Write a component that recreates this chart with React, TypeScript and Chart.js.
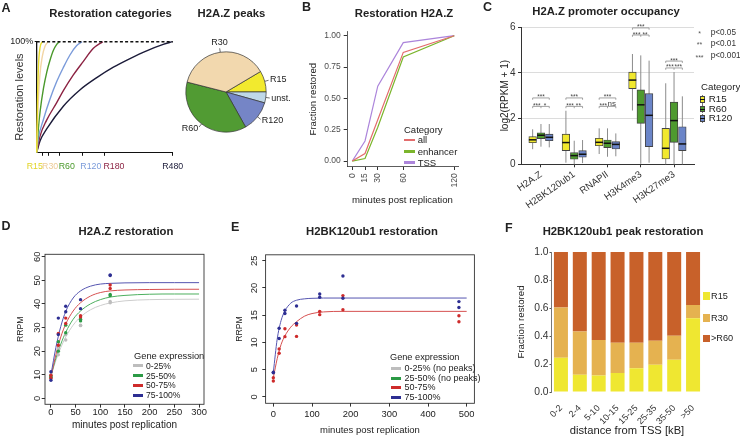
import React, { useEffect, useRef } from "react";
import { Chart, registerables } from "chart.js";

Chart.register(...registerables);

const FONT = '"Liberation Sans", Arial, Helvetica, sans-serif';
Chart.defaults.font.family = FONT;
Chart.defaults.color = "#222";

const W = 740;
const H = 436;

// ================= DATA =================
// Panel A – restoration categories (schematic curves: minutes on display axis, % restored)
const categoryTicksA = [15, 30, 60, 120, 180, 360];
const categoryNamesA = ["R15", "R30", "R60", "R120", "R180", "R480"];
const levelTicksA = [100];
const fullLevelA = [[0, 100], [360, 100]];
const curveR15 = [[0, 0], [2, 45], [5, 80], [9, 95], [15, 100]];
const curveR30 = [[0, 0], [3, 35], [8, 68], [15, 87], [22, 96], [30, 100]];
const curveR60 = [[0, 0], [4, 20], [9, 37], [18, 58], [27, 73], [35, 83], [44, 92], [53, 97.5], [60, 100]];
const curveR120 = [[0, 0], [4, 12], [18, 30], [35, 48], [53, 64], [71, 77], [88, 88], [106, 96.5], [120, 100]];
const curveR180 = [[0, 0], [9, 15], [26, 29], [53, 45], [71, 56], [97, 70], [123, 82], [150, 94], [175, 100]];
const curveR480 = [[0, 0], [9, 10.6], [26, 21], [71, 42], [115, 56.7], [159, 67.6], [203, 77], [247, 84.8], [291, 91.8], [335, 97.6], [360, 100]];

// Panel A – H2A.Z peaks pie (percent)
const peakCategories = ["R15", "unst.", "R120", "R60", "R30"];
const peakShares = [8.5, 4.4, 12.5, 37.1, 37.5];

// Panel B – Restoration H2A.Z
const minutesB = [0, 15, 30, 60, 120];
const categoriesB = ["all", "enhancer", "TSS"];
const fractionAllB = [0, 0.06, 0.33, 0.867, 1];
const fractionEnhancerB = [0, 0.02, 0.27, 0.83, 1];
const fractionTssB = [0, 0.16, 0.598, 0.945, 1];
const fractionTicksB = [0, 0.25, 0.5, 0.75, 1];

// Panel C – H2A.Z promoter occupancy: [lower whisker, Q1, median, Q3, upper whisker]
const marksC = ["H2A.Z", "H2BK120ub1", "RNAPII", "H3K4me3", "H3K27me3"];
const categoriesC = ["R15", "R60", "R120"];
const boxR15C = [[0.66, 0.94, 1.07, 1.21, 1.53], [0.07, 0.6, 0.95, 1.32, 2.34], [0.45, 0.81, 0.96, 1.14, 1.57], [2.35, 3.31, 3.68, 4.03, 4.82], [0.0, 0.23, 0.7, 1.57, 3.54]];
const boxR60C = [[0.77, 1.12, 1.27, 1.38, 1.76], [0.0, 0.22, 0.38, 0.51, 1.03], [0.33, 0.73, 0.92, 1.06, 1.57], [0.02, 1.79, 2.6, 3.25, 4.76], [0.0, 0.96, 1.91, 2.72, 4.03]];
const boxR120C = [[0.74, 1.03, 1.18, 1.32, 1.76], [0.05, 0.31, 0.44, 0.6, 1.06], [0.35, 0.67, 0.87, 0.99, 1.35], [0.07, 0.77, 2.14, 3.09, 4.53], [0.0, 0.6, 0.89, 1.64, 2.97]];
const yTicksC = [0, 2, 4, 6];
const sigTopC = ["***", "***", "***", "***", "***"];
const sigLeftC = ["***", "***", "***", "***", "***"];
const sigRightC = ["*", "**", "ns", "**", "***"];
const bracketTopC = [2.9, 2.9, 2.9, 5.96, 4.51];
const bracketLowC = [2.53, 2.53, 2.53, 5.65, 4.21];
const pLevelStars = ["*", "**", "***"];
const pLevelTexts = ["p<0.05", "p<0.01", "p<0.001"];

// Panel D – H2A.Z restoration (RRPM)
const expressionGroupsD = ["0-25%", "25-50%", "50-75%", "75-100%"];
const timesD = [0, 0, 15, 15, 30, 30, 60, 60, 120, 120];
const rrpmD0_25 = [10.0, 9.3, 21, 18.5, 27, 24.7, 31, 30.8, 41, 40.5];
const rrpmD25_50 = [9.5, 9.0, 24, 20, 31, 27.8, 33.5, 32.8, 44, 43.5];
const rrpmD50_75 = [9.8, 8.5, 27.5, 22.5, 34, 31.7, 35, 34.5, 48, 46.5];
const rrpmD75_100 = [11.3, 7.7, 34, 27, 39, 36.7, 41.8, 38, 52.3, 52];
const fitTimesD = [0, 10, 20, 30, 45, 60, 80, 100, 120, 150, 200, 250, 300];
const fitD0_25 = [9.5, 16, 21.5, 26, 31, 34.5, 37.5, 39.3, 40.4, 41.3, 41.8, 41.95, 42];
const fitD25_50 = [9.5, 17, 23, 28, 33.5, 37, 40, 41.8, 42.9, 43.6, 44.1, 44.2, 44.2];
const fitD50_75 = [9, 18.5, 26, 31.5, 37, 40.5, 43.3, 44.8, 45.5, 45.9, 46.1, 46.2, 46.2];
const fitD75_100 = [10, 21.5, 30.5, 36.8, 42.5, 45.5, 47.5, 48.4, 48.7, 48.9, 49, 49, 49];
const xTicksD = [0, 50, 100, 150, 200, 250, 300];
const yTicksD = [0, 10, 20, 30, 40, 50, 60];

// Panel E – H2BK120ub1 restoration (RRPM)
const expressionGroupsE = ["0-25% (no peaks)", "25-50% (no peaks)", "50-75%", "75-100%"];
const timesE = [0, 0, 15, 15, 30, 30, 60, 60, 120, 120, 180, 180, 480, 480];
const rrpmE50_75 = [3.5, 2.9, 8.8, 8.0, 12.5, 11.05, 13.2, 11.1, 15.7, 15.1, 18.6, 16.0, 14.9, 13.8];
const rrpmE75_100 = [4.4, 4.5, 12.6, 10.7, 15.9, 15.3, 16.7, 13.5, 18.9, 18.3, 22.2, 18.1, 17.5, 16.4];
const fitTimesE = [0, 10, 20, 30, 45, 60, 80, 100, 130, 180, 250, 500];
const fitE50_75 = [3.5, 7.0, 9.6, 11.2, 12.8, 13.8, 14.8, 15.3, 15.6, 15.7, 15.7, 15.7];
const fitE75_100 = [4.5, 10.6, 14.0, 15.8, 17.2, 17.75, 18.0, 18.1, 18.15, 18.15, 18.15, 18.15];
const xTicksE = [0, 100, 200, 300, 400, 500];
const yTicksE = [0, 5, 10, 15, 20, 25];

// Panel F – H2BK120ub1 peak restoration
const distancesF = ["0-2", "2-4", "5-10", "10-15", "15-25", "25-35", "35-50", ">50"];
const categoriesF = ["R15", "R30", ">R60"];
const fractionR15F = [0.244, 0.124, 0.117, 0.136, 0.17, 0.194, 0.23, 0.526];
const fractionR30F = [0.359, 0.309, 0.254, 0.216, 0.182, 0.172, 0.172, 0.096];
const fractionR60F = [0.397, 0.567, 0.629, 0.648, 0.648, 0.634, 0.598, 0.378];
const yTicksF = [0, 0.2, 0.4, 0.6, 0.8, 1];

// ================= STYLES =================
const COLORS_A = ["#E8DC2C", "#F2D5A4", "#4A992B", "#7B9BDA", "#8C2343", "#1B1B39"];
const TICK_COLORS_A = ["#E2D426", "#EDCB96", "#4A992B", "#7B9BDA", "#8C2343", "#1B1B39"];
const TICK_ALIGN_A = ["right", "left", "left", "left", "left", "center"];
const TICK_SHIFT_A = [0.5, -6, -0.7, -1.7, -1.3, 0];
const COLORS_PIE = ["#F2EA2E", "#BFD8E8", "#7585C6", "#519B33", "#F2D8AE"];
const COLORS_B = ["#E36D6D", "#7BB52C", "#AC85DB"];
const COLORS_C = ["#F1E82E", "#4E9A2F", "#6B85C8"];
const POINT_COLORS_D = ["#BDBDBD", "#2B9A45", "#CE2B2B", "#2D2E92"];
const LINE_COLORS_D = ["#CDCDCD", "#4CAF5E", "#D65050", "#5555B0"];
const COLORS_F = ["#EFE731", "#E5B250", "#C8612A"];

// ================= HELPERS =================
const pairs = (p: number[][]) => p.map(([x, y]) => ({ x, y }));
const xy = (xs: number[], ys: number[]) => xs.map((x, i) => ({ x, y: ys[i] }));
const setTicks = (vals: number[]) => (s: any) => {
  s.ticks = vals.map((v) => ({ value: v }));
};
const tickGrid = (len: number, color = "#333") => ({
  display: true,
  drawOnChartArea: false,
  drawTicks: true,
  tickLength: len,
  color,
  tickColor: color,
  lineWidth: 1,
  offset: false,
});
const xTitle = (text: string, size: number, centerY: number, color = "#222") => ({
  display: true,
  text,
  color,
  font: { size },
  padding: { top: 0, bottom: H - centerY - (size * 1.2) / 2 },
});
const yTitle = (text: string, size: number, centerX: number, color = "#222") => ({
  display: true,
  text,
  color,
  font: { size },
  padding: { top: centerX - (size * 1.2) / 2, bottom: 0 },
});
const baseOptions = (T: number, R: number) => ({
  responsive: false,
  animation: false,
  events: [],
  layout: { padding: { left: 0, top: T, right: W - R, bottom: 0 } },
  plugins: { legend: { display: false }, tooltip: { enabled: false } },
});

const framePlugin = {
  id: "frame",
  afterDraw(chart: any) {
    const { left, top, right, bottom } = chart.chartArea;
    const ctx = chart.ctx;
    ctx.save();
    ctx.strokeStyle = "#333";
    ctx.lineWidth = 0.9;
    ctx.strokeRect(left, top, right - left, bottom - top);
    ctx.restore();
  },
};

const rotatedYLabels = (values: number[], centerX: number, size: number) => ({
  id: "rotY",
  afterDraw(chart: any) {
    const ys = chart.scales.y;
    const ctx = chart.ctx;
    ctx.save();
    ctx.font = `${size}px ${FONT}`;
    ctx.fillStyle = "#222";
    ctx.textAlign = "center";
    ctx.textBaseline = "middle";
    values.forEach((v) => {
      ctx.save();
      ctx.translate(centerX, ys.getPixelForValue(v));
      ctx.rotate(-Math.PI / 2);
      ctx.fillText(String(v), 0, 0);
      ctx.restore();
    });
    ctx.restore();
  },
});

// ================= PANEL CONFIGS =================
function makeA() {
  const L = 36.7, T = 41.7, R = 172.7, B = 152.5;
  const curves = [curveR15, curveR30, curveR60, curveR120, curveR180, curveR480];
  const categoryLabelPlugin = {
    id: "catLabels",
    afterDraw(chart: any) {
      const xs = chart.scales.x, ctx = chart.ctx;
      ctx.save();
      ctx.font = `8.8px ${FONT}`;
      ctx.textBaseline = "middle";
      categoryTicksA.forEach((v, i) => {
        ctx.fillStyle = TICK_COLORS_A[i];
        ctx.textAlign = TICK_ALIGN_A[i];
        ctx.fillText(categoryNamesA[i], xs.getPixelForValue(v) + TICK_SHIFT_A[i], 166.7);
      });
      ctx.restore();
    },
  };
  return {
    type: "line",
    data: {
      datasets: [
        { data: pairs(fullLevelA), borderColor: "#111", borderWidth: 1.4, borderDash: [3, 2.2], pointRadius: 0, clip: 5 },
        ...curves.map((c, i) => ({
          data: pairs(c),
          borderColor: COLORS_A[i],
          borderWidth: 1.4,
          pointRadius: 0,
          cubicInterpolationMode: "monotone",
          clip: 5,
        })),
      ],
    },
    options: {
      ...baseOptions(T, R),
      scales: {
        x: {
          type: "linear",
          min: 0,
          max: 360,
          afterBuildTicks: setTicks(categoryTicksA),
          afterFit: (s: any) => { s.height = H - B; },
          ticks: { display: false, autoSkip: false },
          grid: tickGrid(3.3, "#111"),
          border: { display: true, color: "#111", width: 1 },
        },
        y: {
          type: "linear",
          min: 0,
          max: 100,
          afterBuildTicks: setTicks(levelTicksA),
          afterFit: (s: any) => { s.width = L; },
          ticks: { padding: 1.4, font: { size: 9 }, color: "#222", callback: (v: any) => v + "%" },
          grid: tickGrid(2, "#111"),
          border: { display: true, color: "#111", width: 1.3 },
          title: yTitle("Restoration levels", 11, 19.5, "#333"),
        },
      },
    },
    plugins: [categoryLabelPlugin],
  };
}

const pieLabelPlugin = {
  id: "pieLabels",
  afterDatasetsDraw(chart: any) {
    const meta = chart.getDatasetMeta(0);
    const ctx = chart.ctx;
    ctx.save();
    ctx.font = `9px ${FONT}`;
    ctx.fillStyle = "#222";
    ctx.strokeStyle = "#333";
    ctx.lineWidth = 0.7;
    meta.data.forEach((arc: any, i: number) => {
      const { x, y, startAngle, endAngle, outerRadius } = arc.getProps(["x", "y", "startAngle", "endAngle", "outerRadius"], true);
      const mid = (startAngle + endAngle) / 2;
      const c = Math.cos(mid), s = Math.sin(mid);
      ctx.beginPath();
      ctx.moveTo(x + c * outerRadius, y + s * outerRadius);
      ctx.lineTo(x + c * (outerRadius + 4), y + s * (outerRadius + 4));
      ctx.stroke();
      const lx = x + c * (outerRadius + 5.5), ly = y + s * (outerRadius + 5.5);
      if (Math.abs(c) < 0.3) {
        ctx.textAlign = "center";
        ctx.textBaseline = s < 0 ? "bottom" : "top";
      } else {
        ctx.textAlign = c > 0 ? "left" : "right";
        ctx.textBaseline = "middle";
      }
      ctx.fillText(peakCategories[i], lx, ly);
    });
    ctx.restore();
  },
};

function makePie() {
  const cx = 226, cy = 92, r = 40.5;
  return {
    type: "pie",
    data: {
      labels: peakCategories,
      datasets: [{ data: peakShares, backgroundColor: COLORS_PIE, borderColor: "#333", borderWidth: 0.7 }],
    },
    options: {
      responsive: false,
      animation: false,
      events: [],
      rotation: 59.3,
      layout: { padding: { left: cx - r, top: cy - r, right: W - cx - r, bottom: H - cy - r } },
      plugins: { legend: { display: false }, tooltip: { enabled: false } },
    },
    plugins: [pieLabelPlugin],
  };
}

function makeB() {
  const L = 347, T = 31.7, R = 458, B = 166.7;
  const series = [fractionAllB, fractionEnhancerB, fractionTssB];
  return {
    type: "line",
    data: {
      datasets: series.map((s, i) => ({ data: xy(minutesB, s), borderColor: COLORS_B[i], borderWidth: 1.2, pointRadius: 0 })),
    },
    options: {
      ...baseOptions(T, R),
      scales: {
        x: {
          type: "linear",
          min: -6.2,
          max: 124.4,
          afterBuildTicks: setTicks(minutesB),
          afterFit: (s: any) => { s.height = H - B; },
          ticks: { autoSkip: false, minRotation: 90, maxRotation: 90, padding: 3.3, font: { size: 8.5 }, color: "#4D4D4D" },
          grid: tickGrid(3.3, "#333"),
          border: { display: true, color: "#333", width: 0.8 },
          title: xTitle("minutes post replication", 9.6, 200),
        },
        y: {
          type: "linear",
          min: -0.045,
          max: 1.032,
          afterBuildTicks: setTicks(fractionTicksB),
          afterFit: (s: any) => { s.width = L; },
          ticks: { padding: 3, font: { size: 8.5 }, color: "#4D4D4D", callback: (v: any) => Number(v).toFixed(2) },
          grid: tickGrid(3.3, "#333"),
          border: { display: true, color: "#333", width: 0.8 },
          title: yTitle("Fraction restored", 9.6, 313),
        },
      },
    },
  };
}

const OFFSETS_C = [-0.25, 0, 0.25];
const BOX_HALF_C = 3.8;
function makeC() {
  const L = 521, T = 27, R = 694, B = 164.3;
  const stats = [boxR15C, boxR60C, boxR120C];
  const boxPlugin = {
    id: "boxParts",
    beforeDatasetsDraw(chart: any) {
      const xs = chart.scales.x, ys = chart.scales.y, ctx = chart.ctx;
      ctx.save();
      ctx.strokeStyle = "#8C8C8C";
      ctx.lineWidth = 1;
      stats.forEach((st, k) =>
        st.forEach((s, i) => {
          const px = xs.getPixelForValue(i + 1 + OFFSETS_C[k]);
          ctx.beginPath();
          ctx.moveTo(px, ys.getPixelForValue(s[0]));
          ctx.lineTo(px, ys.getPixelForValue(s[4]));
          ctx.stroke();
        })
      );
      ctx.restore();
    },
    afterDatasetsDraw(chart: any) {
      const xs = chart.scales.x, ys = chart.scales.y, ctx = chart.ctx;
      ctx.save();
      ctx.strokeStyle = "#111";
      ctx.lineWidth = 1.5;
      stats.forEach((st, k) =>
        st.forEach((s, i) => {
          const px = xs.getPixelForValue(i + 1 + OFFSETS_C[k]);
          const py = ys.getPixelForValue(s[2]);
          ctx.beginPath();
          ctx.moveTo(px - BOX_HALF_C, py);
          ctx.lineTo(px + BOX_HALF_C, py);
          ctx.stroke();
        })
      );
      ctx.restore();
    },
    afterDraw(chart: any) {
      const xs = chart.scales.x, ys = chart.scales.y, ctx = chart.ctx;
      ctx.save();
      ctx.strokeStyle = "#8A8A8A";
      ctx.lineWidth = 0.8;
      ctx.fillStyle = "#444";
      ctx.textAlign = "center";
      ctx.textBaseline = "alphabetic";
      const seg = (x1: number, y1: number, x2: number, y2: number) => {
        ctx.beginPath();
        ctx.moveTo(x1, y1);
        ctx.lineTo(x2, y2);
        ctx.stroke();
      };
      marksC.forEach((_m, i) => {
        const c = i + 1;
        const xa = xs.getPixelForValue(c + OFFSETS_C[0]);
        const xb = xs.getPixelForValue(c + OFFSETS_C[1]);
        const xc = xs.getPixelForValue(c + OFFSETS_C[2]);
        const yt = ys.getPixelForValue(bracketTopC[i]);
        const yl = ys.getPixelForValue(bracketLowC[i]);
        seg(xa, yt + 1.8, xa, yt); seg(xa, yt, xc, yt); seg(xc, yt, xc, yt + 1.8);
        seg(xa, yl + 1.8, xa, yl); seg(xa, yl, xc, yl); seg(xb, yl, xb, yl + 1.8); seg(xc, yl, xc, yl + 1.8);
        const txt = (t: string, x: number, y: number) => {
          ctx.font = t === "ns" ? `8px ${FONT}` : `6.5px ${FONT}`;
          ctx.fillText(t, x, t === "ns" ? y + 0.5 : y + 2.5);
        };
        txt(sigTopC[i], xb, yt - 1);
        txt(sigLeftC[i], (xa + xb) / 2, yl - 1);
        txt(sigRightC[i], (xb + xc) / 2, yl - 1);
      });
      ctx.restore();
    },
  };
  return {
    type: "bar",
    data: {
      datasets: stats.map((st, k) => ({
        label: categoriesC[k],
        data: st.map((s, i) => ({ x: i + 1 + OFFSETS_C[k], y: [s[1], s[3]] })),
        backgroundColor: COLORS_C[k],
        borderColor: "#444",
        borderWidth: 0.9,
        borderSkipped: false,
        barThickness: BOX_HALF_C * 2,
        grouped: false,
      })),
    },
    options: {
      ...baseOptions(T, R),
      scales: {
        x: {
          type: "linear",
          min: 0.4,
          max: 5.6,
          offset: false,
          afterBuildTicks: setTicks([1, 2, 3, 4, 5]),
          afterFit: (s: any) => { s.height = H - B; },
          ticks: {
            autoSkip: false,
            minRotation: 35,
            maxRotation: 35,
            padding: 1.5,
            font: { size: 9.7 },
            color: "#333",
            callback: (v: any) => marksC[Math.round(v) - 1],
          },
          grid: tickGrid(3, "#333"),
          border: { display: true, color: "#333", width: 1 },
        },
        y: {
          type: "linear",
          min: 0,
          max: 6,
          afterBuildTicks: setTicks(yTicksC),
          afterFit: (s: any) => { s.width = L; },
          ticks: { padding: 2.5, font: { size: 10 }, color: "#333" },
          grid: {
            display: true,
            drawOnChartArea: true,
            drawTicks: true,
            tickLength: 3,
            color: (ctx: any) => (ctx.tick && ctx.tick.value === 0 ? "rgba(0,0,0,0)" : "#DCDCDC"),
            tickColor: "#333",
            lineWidth: 1,
          },
          border: { display: true, color: "#333", width: 1 },
          title: yTitle("log2(RPKM + 1)", 10, 505),
        },
      },
    },
    plugins: [boxPlugin],
  };
}

function makeD() {
  const L = 45, T = 254.3, R = 204, B = 404.3;
  const pts = [rrpmD0_25, rrpmD25_50, rrpmD50_75, rrpmD75_100];
  const fits = [fitD0_25, fitD25_50, fitD50_75, fitD75_100];
  const pointSets = pts.map((p, i) => ({
    data: xy(timesD, p),
    showLine: false,
    pointRadius: 1.7,
    pointBorderWidth: 0,
    pointBackgroundColor: POINT_COLORS_D[i],
  })).reverse();
  const fitSets = fits.map((f, i) => ({
    data: xy(fitTimesD, f),
    borderColor: LINE_COLORS_D[i],
    borderWidth: 1,
    pointRadius: 0,
    cubicInterpolationMode: "monotone",
  })).reverse();
  return {
    type: "line",
    data: { datasets: [...pointSets, ...fitSets] },
    options: {
      ...baseOptions(T, R),
      scales: {
        x: {
          type: "linear",
          min: -12,
          max: 310,
          afterBuildTicks: setTicks(xTicksD),
          afterFit: (s: any) => { s.height = H - B; },
          ticks: { autoSkip: false, maxRotation: 0, padding: -1.2, font: { size: 9.4 }, color: "#222" },
          grid: tickGrid(3.3, "#333"),
          border: { display: false },
          title: xTitle("minutes post replication", 10, 425.7),
        },
        y: {
          type: "linear",
          min: -2.5,
          max: 61,
          afterBuildTicks: setTicks(yTicksD),
          afterFit: (s: any) => { s.width = L; },
          ticks: { display: false },
          grid: tickGrid(3.3, "#333"),
          border: { display: false },
          title: yTitle("RRPM", 8.7, 20.5),
        },
      },
    },
    plugins: [framePlugin, rotatedYLabels(yTicksD, 37.5, 9.4)],
  };
}

function makeE() {
  const L = 265.6, T = 254.8, R = 474.4, B = 403.3;
  const pts = [rrpmE50_75, rrpmE75_100];
  const fits = [fitE50_75, fitE75_100];
  const pointSets = pts.map((p, i) => ({
    data: xy(timesE, p),
    showLine: false,
    pointRadius: 1.7,
    pointBorderWidth: 0,
    pointBackgroundColor: POINT_COLORS_D[i + 2],
  })).reverse();
  const fitSets = fits.map((f, i) => ({
    data: xy(fitTimesE, f),
    borderColor: LINE_COLORS_D[i + 2],
    borderWidth: 1,
    pointRadius: 0,
    cubicInterpolationMode: "monotone",
  })).reverse();
  return {
    type: "line",
    data: { datasets: [...pointSets, ...fitSets] },
    options: {
      ...baseOptions(T, R),
      scales: {
        x: {
          type: "linear",
          min: -20,
          max: 520,
          afterBuildTicks: setTicks(xTicksE),
          afterFit: (s: any) => { s.height = H - B; },
          ticks: { autoSkip: false, maxRotation: 0, padding: 2.3, font: { size: 9.4 }, color: "#222" },
          grid: tickGrid(3.3, "#333"),
          border: { display: false },
          title: xTitle("minutes post replication", 9.5, 430),
        },
        y: {
          type: "linear",
          min: -1.2,
          max: 26.1,
          afterBuildTicks: setTicks(yTicksE),
          afterFit: (s: any) => { s.width = L; },
          ticks: { display: false },
          grid: tickGrid(3.3, "#333"),
          border: { display: false },
          title: yTitle("RRPM", 8.7, 240),
        },
      },
    },
    plugins: [framePlugin, rotatedYLabels(yTicksE, 254, 9.4)],
  };
}

function makeF() {
  const L = 551.5, T = 252, R = 702.5, B = 392;
  const series = [fractionR15F, fractionR30F, fractionR60F];
  return {
    type: "bar",
    data: {
      labels: distancesF,
      datasets: series.map((s, i) => ({
        label: categoriesF[i],
        data: s,
        backgroundColor: COLORS_F[i],
        borderWidth: 0,
        barPercentage: 0.742,
        categoryPercentage: 1,
      })),
    },
    options: {
      ...baseOptions(T, R),
      scales: {
        x: {
          stacked: true,
          afterFit: (s: any) => { s.height = H - B; },
          ticks: { autoSkip: false, minRotation: 45, maxRotation: 45, padding: 3, font: { size: 9 }, color: "#333" },
          grid: { display: false },
          border: { display: false },
          title: xTitle("distance from TSS [kB]", 11.2, 431),
        },
        y: {
          stacked: true,
          min: 0,
          max: 1,
          afterBuildTicks: setTicks(yTicksF),
          afterFit: (s: any) => { s.width = L; },
          ticks: { padding: 1, font: { size: 10.3 }, color: "#333", callback: (v: any) => Number(v).toFixed(1) },
          grid: tickGrid(2, "#555"),
          border: { display: true, color: "#777", width: 1 },
          title: yTitle("Fraction restored", 9.7, 521.7),
        },
      },
    },
  };
}

// ================= COMPONENTS =================
function ChartLayer({ make }: { make: () => any }) {
  const ref = useRef<HTMLCanvasElement>(null);
  useEffect(() => {
    const chart = new Chart(ref.current as HTMLCanvasElement, make());
    return () => chart.destroy();
  }, []);
  return (
    <canvas
      ref={ref}
      width={W}
      height={H}
      style={{ position: "absolute", left: 0, top: 0, width: W, height: H }}
    />
  );
}

function T({ x, y, s, b, c, a = "left", children }: any) {
  const style: any = {
    position: "absolute",
    top: y - 0.59 * s,
    fontSize: s,
    lineHeight: `${1.2 * s}px`,
    fontWeight: b ? "bold" : "normal",
    color: c || "#222",
    whiteSpace: "nowrap",
    fontFamily: FONT,
  };
  if (a === "left") style.left = x;
  else if (a === "center") {
    style.left = x;
    style.transform = "translateX(-50%)";
  } else style.right = W - x;
  return <div style={style}>{children}</div>;
}

function Box({ x, y, w, h, bg, border }: any) {
  return (
    <div
      style={{
        position: "absolute",
        left: x,
        top: y,
        width: w,
        height: h,
        background: bg,
        border: border || "none",
        boxSizing: "border-box",
      }}
    />
  );
}

export default function App() {
  const legendBY = [140, 151.7, 162.3];
  const legendDY = [365.7, 375.7, 385.3, 395];
  const legendEY = [368.3, 378.3, 387.7, 397];
  const legendFY = [296, 318, 338.7];
  const legendCY = [99, 108.7, 118];
  const pLegendY = [33, 44, 56.3];
  return (
    <div
      style={{
        position: "absolute",
        left: 0,
        top: 0,
        width: W,
        height: H,
        background: "#fff",
        overflow: "hidden",
        fontFamily: FONT,
      }}
    >
      <ChartLayer make={makeA} />
      <ChartLayer make={makePie} />
      <ChartLayer make={makeB} />
      <ChartLayer make={makeC} />
      <ChartLayer make={makeD} />
      <ChartLayer make={makeE} />
      <ChartLayer make={makeF} />

      {/* panel letters */}
      <T x={1.5} y={8} s={12.5} b>A</T>
      <T x={302} y={7} s={12.5} b>B</T>
      <T x={483} y={7.8} s={12.5} b>C</T>
      <T x={1.5} y={226.3} s={12.5} b>D</T>
      <T x={231} y={227.5} s={12.5} b>E</T>
      <T x={505} y={228.7} s={12.5} b>F</T>

      {/* titles */}
      <T x={110.5} y={13.7} s={11.3} b a="center">Restoration categories</T>
      <T x={231.5} y={13.7} s={11.3} b a="center">H2A.Z peaks</T>
      <T x={404} y={13.7} s={11.3} b a="center">Restoration H2A.Z</T>
      <T x={606} y={11.2} s={11.3} b a="center">H2A.Z promoter occupancy</T>
      <T x={126} y={231.7} s={11.3} b a="center">H2A.Z restoration</T>
      <T x={372} y={231.7} s={11.3} b a="center">H2BK120ub1 restoration</T>
      <T x={623} y={231.7} s={11.3} b a="center">H2BK120ub1 peak restoration</T>

      {/* legend B */}
      <T x={404} y={130} s={9.5}>Category</T>
      {categoriesB.map((name, i) => (
        <React.Fragment key={"b" + i}>
          <Box x={404} y={legendBY[i] - 1.3} w={11} h={2.7} bg={COLORS_B[i]} />
          <T x={417.7} y={legendBY[i]} s={9.5}>{name}</T>
        </React.Fragment>
      ))}

      {/* p-value legend C */}
      {pLevelStars.map((st, i) => (
        <React.Fragment key={"p" + i}>
          <T x={699.5} y={pLegendY[i] + 1.5} s={7} c="#555" a="center">{st}</T>
          <T x={710.7} y={pLegendY[i]} s={8.2} c="#333">{pLevelTexts[i]}</T>
        </React.Fragment>
      ))}
      {/* category legend C */}
      <T x={701} y={86.3} s={9.7}>Category</T>
      {categoriesC.map((name, i) => (
        <React.Fragment key={"c" + i}>
          <Box x={702.2} y={legendCY[i] - 4.5} w={1} h={9} bg="#777" />
          <Box x={700.2} y={legendCY[i] - 3} w={5} h={6.5} bg={COLORS_C[i]} border="0.8px solid #444" />
          <Box x={700.2} y={legendCY[i] - 0.2} w={5} h={0.9} bg="#111" />
          <T x={708.7} y={legendCY[i]} s={9.8}>{name}</T>
        </React.Fragment>
      ))}

      {/* legend D */}
      <T x={134} y={356} s={9.3}>Gene expression</T>
      {expressionGroupsD.map((name, i) => (
        <React.Fragment key={"d" + i}>
          <Box x={133.3} y={legendDY[i] - 1.5} w={10} h={3} bg={POINT_COLORS_D[i]} />
          <T x={146} y={legendDY[i]} s={8.6}>{name}</T>
        </React.Fragment>
      ))}

      {/* legend E */}
      <T x={390} y={357.7} s={9.2}>Gene expression</T>
      {expressionGroupsE.map((name, i) => (
        <React.Fragment key={"e" + i}>
          <Box x={390.7} y={legendEY[i] - 1.5} w={10} h={3} bg={POINT_COLORS_D[i]} />
          <T x={404.5} y={legendEY[i]} s={9}>{name}</T>
        </React.Fragment>
      ))}

      {/* legend F */}
      {categoriesF.map((name, i) => (
        <React.Fragment key={"f" + i}>
          <Box x={702.7} y={legendFY[i] - 3.7} w={7.3} h={7.3} bg={COLORS_F[i]} />
          <T x={711} y={legendFY[i]} s={9.2}>{name}</T>
        </React.Fragment>
      ))}
    </div>
  );
}
